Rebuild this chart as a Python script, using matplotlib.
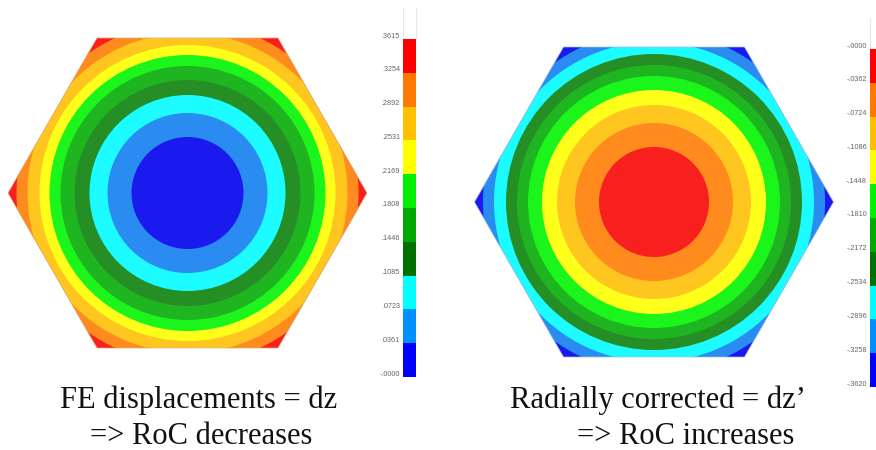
import numpy as np
import matplotlib
matplotlib.use("Agg")
import matplotlib.pyplot as plt
from matplotlib.patches import Circle, Polygon

# band colours, low to high on the scale
band_colors = ["#0000ff", "#0090ff", "#00ffff", "#007000", "#00a800", "#00f000",
               "#ffff00", "#ffc000", "#ff7800", "#ff0000"]
plate_colors = ["#1a1aee", "#2a8cf0", "#1cfbff", "#258f25", "#1fb520", "#1cf51c",
                "#ffff1c", "#ffc61f", "#ff8a1e", "#f8201e"]

# ring radii, inner band first
radii_left = [56, 80, 98, 113, 127, 138, 148, 160, 171, 215]
radii_right = [55, 79, 97, 112, 126, 137, 148, 160, 171, 215]

labels_left = [".3615", ".3254", ".2892", ".2531", ".2169", ".1808",
               ".1446", ".1085", ".0723", ".0361", "-.0000"]
labels_right = ["-.0000", "-.0362", "-.0724", "-.1086", "-.1448", "-.1810",
                "-.2172", "-.2534", "-.2896", "-.3258", "-.3620"]

caption_left = ["FE displacements = dz", "=> RoC decreases"]
caption_right = ["Radially corrected = dz\u2019", "=> RoC increases"]

fig = plt.figure(figsize=(8.76, 4.5), dpi=100)
ax = fig.add_axes([0, 0, 1, 1])
ax.set(xlim=[0, 876], ylim=[450, 0])
ax.axis("off")


def plate(cx, cy, radii, colors, edge, half_w=179.5, half_h=155, top_w=90.5):
    corners = [(cx - half_w, cy), (cx - top_w, cy - half_h), (cx + top_w, cy - half_h),
               (cx + half_w, cy), (cx + top_w, cy + half_h), (cx - top_w, cy + half_h)]
    hexagon = Polygon(corners, closed=True, fc="none", ec=edge, lw=0.5, zorder=5)
    ax.add_patch(hexagon)
    for r, c in zip(radii[::-1], colors[::-1]):
        ring = Circle((cx, cy), r, fc=c, ec="none", zorder=2)
        ax.add_patch(ring)
        ring.set_clip_path(hexagon)


def scale(x, top, bottom, colors, labels, width=13):
    edges = np.linspace(top, bottom, len(colors) + 1)
    ax.bar(x, edges[1:] - edges[:-1], width=width, bottom=edges[:-1], align="edge",
           color=colors, zorder=3)
    for y, t in zip(edges, labels):
        ax.text(x - 3, y - 3, t, ha="right", va="center", fontsize=5.2,
                color="#666666", family="Liberation Sans")


plate(187.5, 193, radii_left, plate_colors, "#d8b070")
plate(654, 202, radii_right, plate_colors[::-1], "#9fc4e8")

ax.plot([403, 403], [8, 39], c="#e8e8e8", lw=0.8)
ax.plot([416, 416], [8, 39], c="#e8e8e8", lw=0.8)
ax.plot([870, 870], [18, 49], c="#e8e8e8", lw=0.8)
scale(403, 39, 377, band_colors[::-1], labels_left)
scale(870, 49, 387, band_colors[::-1], labels_right)

for t, x, y in zip(caption_left, [199, 201.5], [400, 436]):
    ax.text(x, y, t, ha="center", va="center", fontsize=22, family="Liberation Serif", color="#111111")
for t, x, y in zip(caption_right, [658, 685.5], [400, 436]):
    ax.text(x, y, t, ha="center", va="center", fontsize=22, family="Liberation Serif", color="#111111")

fig.savefig("out.png", dpi=100)
